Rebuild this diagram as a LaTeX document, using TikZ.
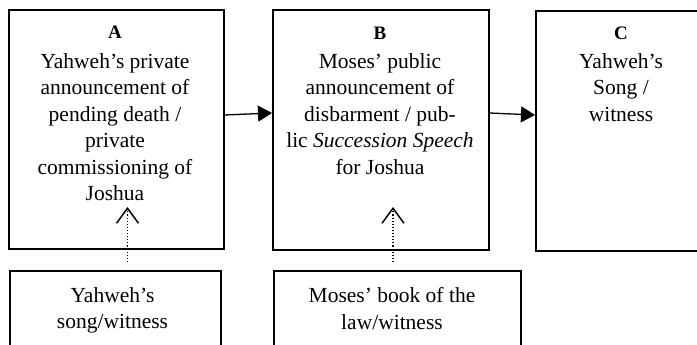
\documentclass[tikz,border=0pt]{standalone}
\usepackage{fontspec}
\setmainfont{Liberation Serif}
\usetikzlibrary{arrows.meta}
\tikzset{
  box/.style={draw=black, line width=1.6pt, rectangle, inner sep=0pt},
  body/.style={align=center, inner sep=0pt, anchor=north, font=\fontsize{21.5}{26.5}\selectfont},
  head/.style={inner sep=0pt, anchor=base, font=\fontsize{19}{22}\selectfont\bfseries},
  flow/.style={line width=1.3pt, -{Triangle[length=14pt,width=16pt]}},
  feed/.style={line width=1.1pt, dotted, -{Straight Barb[length=15pt,width=22pt,line width=1.5pt]}, shorten >=-1pt}
}
\begin{document}
\begin{tikzpicture}[x=1pt,y=-1pt]
\useasboundingbox (0,0) rectangle (697,345);
\clip (0,0) rectangle (697,345);
% main boxes
\node[box, minimum width=215pt, minimum height=239pt, anchor=north west] (A) at (8,9) {};
\node[box, minimum width=216pt, minimum height=240pt, anchor=north west] (B) at (272,9) {};
\node[box, minimum width=172pt, minimum height=240pt, anchor=north west] (C) at (535,10) {};
% bottom boxes
\node[box, minimum width=211pt, minimum height=100pt, anchor=north west] (D) at (9,270) {};
\node[box, minimum width=247pt, minimum height=100pt, anchor=north west] (E) at (273,270) {};
% headings
\node[head] (Ah) at (115,39) {A};
\node[head] (Bh) at (380,40) {B};
\node[head] (Ch) at (621,40) {C};
% texts
\node[body] (At) at (115,53.2) {Yahweh’s private\\announcement of\\pending death /\\private\\commissioning of\\Joshua};
\node[body] (Bt) at (380,53.2) {Moses’ public\\announcement of\\disbarment / pub-\\lic \textit{Succession Speech}\\for Joshua};
\node[body] (Ct) at (621,53.2) {Yahweh’s\\Song /\\witness};
\node[body] (Dt) at (112.5,287.2) {Yahweh’s\\song/witness};
\node[body] (Et) at (392,287.2) {Moses’ book of the\\law/witness};
% connectors
\coordinate (a1) at (223,115);
\coordinate (b1) at (488,113);
\draw[flow] (A.east |- a1) -- (B.west |- 0,113);
\draw[flow] (B.east |- b1) -- (C.west |- 0,115);
\coordinate (dA) at (127.5,208);
\coordinate (dB) at (393,208);
\draw[feed] (D.north -| dA) ++(0,-8) -- (dA);
\draw[feed] (E.north -| dB) ++(0,-8) -- (dB);
\end{tikzpicture}
\end{document}
